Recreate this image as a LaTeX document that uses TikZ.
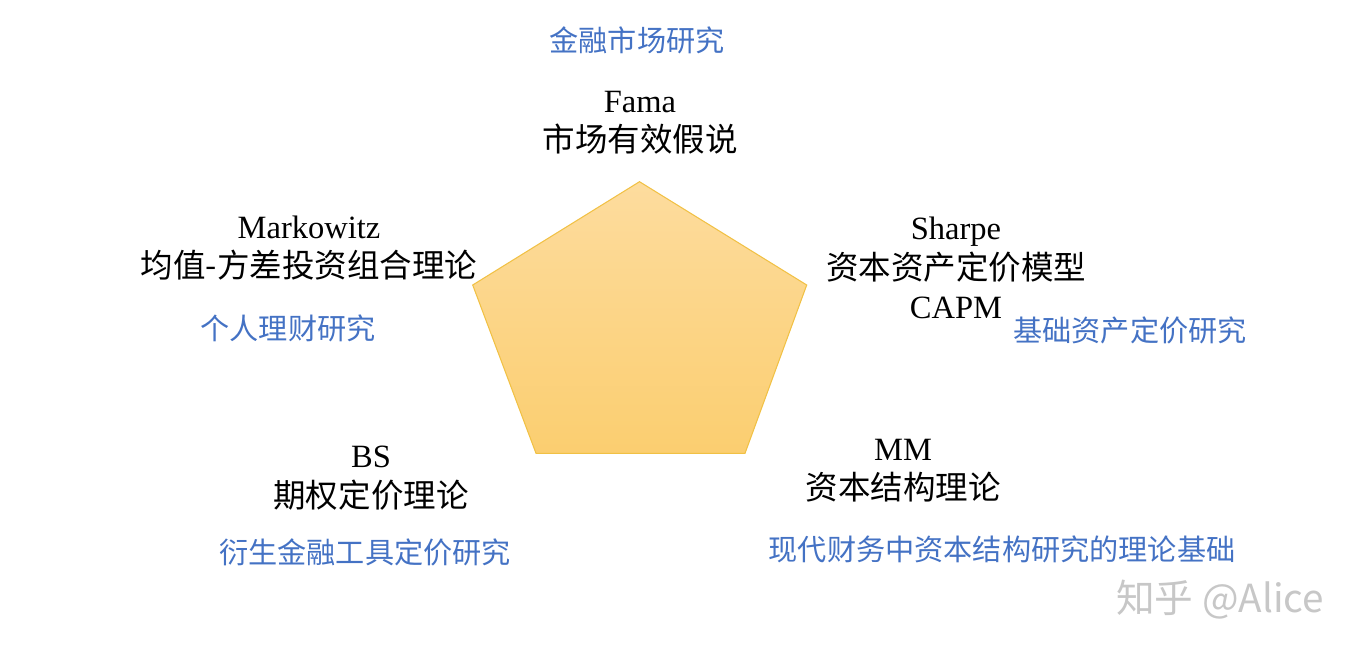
\documentclass[tikz,border=0pt]{standalone}
\usepackage{fontspec}
\setmainfont{Liberation Serif}
\newfontfamily\cjk{Noto Sans CJK SC}
\usepackage{xcolor}
\usetikzlibrary{positioning}
\definecolor{fieldblue}{HTML}{4472C4}
\definecolor{pentlight}{HTML}{FDDC9E}
\definecolor{pentdark}{HTML}{FBCE70}
\definecolor{pentedge}{HTML}{F1C145}

\begin{document}
\begin{tikzpicture}[
  x=0.02cm, y=-0.02cm,
  theory/.style={align=center, inner sep=0pt, font=\fontsize{18.5}{22.4}\selectfont},
  field/.style={inner sep=0pt, text=fieldblue, font=\cjk\fontsize{16.6}{20}\selectfont},
  watermark/.style={inner sep=0pt, text=black!22, font=\cjk\fontsize{22}{22}\selectfont}
]
\useasboundingbox (0,0) rectangle (1364,656);

% The pentagon in the middle
\coordinate (ptop) at (639.5,181.7);
\coordinate (pright) at (806.7,285);
\coordinate (pbright) at (745,453.3);
\coordinate (pbleft) at (536,453.3);
\coordinate (pleft) at (472.7,285);
\shade[top color=pentlight, bottom color=pentdark, draw=pentedge, line width=0.6pt]
  (ptop) -- (pright) -- (pbright) -- (pbleft) -- (pleft) -- cycle;

% Theories at the corners
\node[theory] (fama) at (640,122.5) {Fama\\{\cjk 市场有效假说}};
\node[theory] (markowitz) at (309,248) {Markowitz\\{\cjk 均值-方差投资组合理论}};
\node[theory] (sharpe) at (956,268) {Sharpe\\{\cjk 资本资产定价模型}\\CAPM};
\node[theory] (mm) at (903,471) {MM\\{\cjk 资本结构理论}};
\node[theory] (bs) at (371,478) {BS\\{\cjk 期权定价理论}};

% Fields of research
\node[field] (market) at (637,40) {金融市场研究};
\node[field] (personal) at (288,328) {个人理财研究};
\node[field] (pricing) at (1130,330) {基础资产定价研究};
\node[field] (corporate) at (1002,549) {现代财务中资本结构研究的理论基础};
\node[field] (derivative) at (365,552) {衍生金融工具定价研究};

\node[watermark] (alice) at (1220,600) {知乎 @Alice};

\end{tikzpicture}
\end{document}
